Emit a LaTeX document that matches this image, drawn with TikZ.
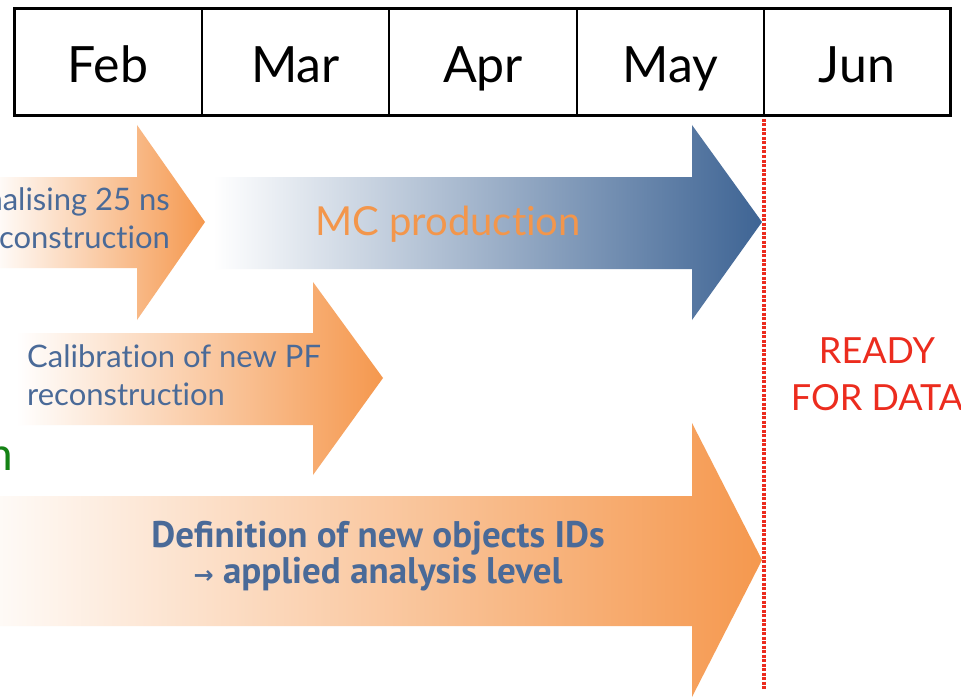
\documentclass[tikz,border=0pt]{standalone}
\usepackage{fontspec}
\setmainfont{Lato}[Ligatures=NoCommon]
\newfontfamily\deffont{PT Sans}
\newfontfamily\arrfont{DejaVu Sans}
\definecolor{arrorange}{RGB}{245,152,78}
\definecolor{arrblue}{RGB}{62,100,148}
\definecolor{txtblue}{RGB}{74,106,152}
\definecolor{mcorange}{RGB}{243,150,75}
\definecolor{readyred}{RGB}{236,44,30}
\definecolor{greentxt}{RGB}{20,130,20}
\tikzset{
  month/.style={anchor=base, font=\fontsize{50}{56}\selectfont, text=black, inner sep=0pt},
  orangearr/.style={left color=white, right color=arrorange, draw=none},
  bluearr/.style={left color=white, right color=arrblue, draw=none},
  arrtext/.style={font=\fontsize{31}{38}\selectfont, text=txtblue, inner sep=0pt},
}
\begin{document}
\begin{tikzpicture}[x=1pt,y=-1pt]
\useasboundingbox (0,0) rectangle (961,698);
\clip (0,0) rectangle (961,698);
\fill[white] (0,0) rectangle (961,698);
% month table
\draw[line width=1.3pt] (202,9) -- (202,116) (389,9) -- (389,116) (577,9) -- (577,116) (764,9) -- (764,116);
\draw[line width=3pt] (14,9) rectangle (950,116);
\node[month] (feb) at (108,83) {Feb};
\node[month] (mar) at (295.5,83) {Mar};
\node[month] (apr) at (483,83) {Apr};
\node[month] (may) at (670.5,83) {May};
\node[month] (jun) at (857,83) {Jun};
% arrow 1
\shade[orangearr] (-10,177) -- (137,177) -- (137,125) -- (205,222) -- (137,320) -- (137,268) -- (-10,268) -- cycle;
\node[arrtext, align=right, anchor=base east] (fin) at (170,248) {nalising 25 ns\\construction};
% arrow 2
\shade[bluearr] (213,177) -- (692,177) -- (692,125) -- (762,222) -- (692,320) -- (692,269) -- (213,269) -- cycle;
\node[font=\fontsize{40}{44}\selectfont, text=mcorange, anchor=base, inner sep=0pt] (mc) at (448,235) {MC production};
% arrow 3
\shade[orangearr] (16,333) -- (313,333) -- (313,282) -- (383,378) -- (313,475) -- (313,425) -- (16,425) -- cycle;
\node[arrtext, align=left, anchor=base west] (calib) at (27,405) {Calibration of new PF\\reconstruction};
% green fragment
\node[font=\fontsize{46}{50}\selectfont, text=greentxt, anchor=base east, inner sep=0pt] (gn) at (13,470) {n};
% arrow 4
\shade[orangearr] (-40,496) -- (692,496) -- (692,423) -- (762,560) -- (692,697) -- (692,626) -- (-40,626) -- cycle;
\node[font=\deffont\bfseries\fontsize{37}{36}\selectfont, text=txtblue, align=center, anchor=base, inner sep=0pt] (defn) at (378,583) {Definition of new objects IDs\\{\arrfont\fontsize{24}{36}\selectfont →} applied analysis level};
% ready line
\coordinate (lt) at (764,119);
\coordinate (lb) at (764,690);
\draw[readyred, line width=3.6pt, dash pattern=on 3pt off 1.5pt] (lt) -- (lb);
\node[font=\fontsize{36}{47}\selectfont, text=readyred, align=center, anchor=base, inner sep=0pt] (ready) at (877,410) {READY\\FOR DATA};
\end{tikzpicture}
\end{document}
